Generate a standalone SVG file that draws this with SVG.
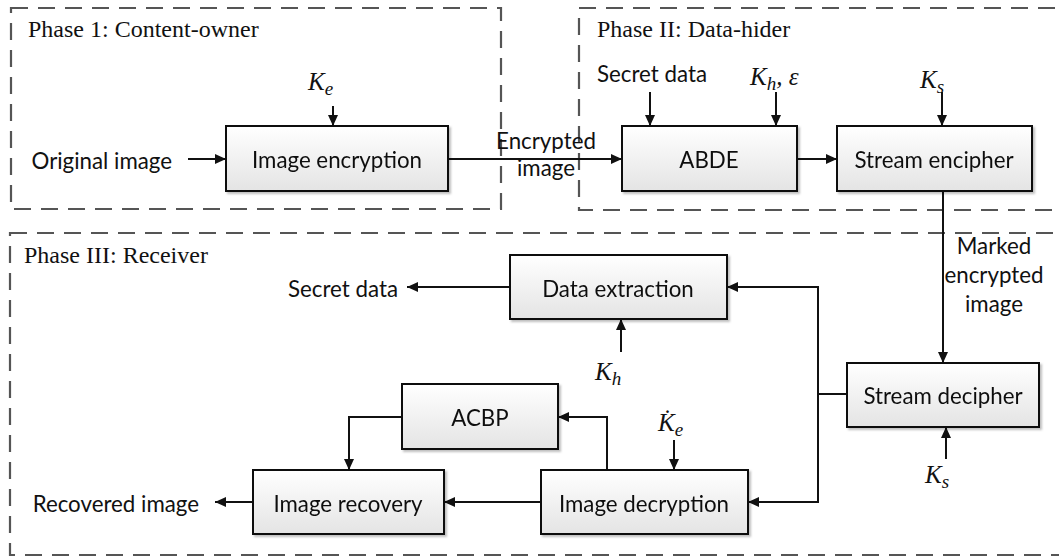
<svg xmlns="http://www.w3.org/2000/svg" width="1059" height="560" viewBox="0 0 1059 560">
  <style>
    .phase { fill: none; stroke: #555; stroke-width: 2.2; stroke-dasharray: 17 10; }
    .ptitle { font-family: "Liberation Serif", serif; font-size: 24px; fill: #111; }
    .box { fill: url(#boxfill); stroke: #111; stroke-width: 2; }
    .lbl { font-family: Lato, "Liberation Sans", sans-serif; font-size: 22.3px; fill: #111; }
    .c { text-anchor: middle; dominant-baseline: central; }
    .math { font-family: "Liberation Serif", serif; font-style: italic; font-size: 25px; fill: #111; }
    .sub { font-size: 19px; }
    .wire { fill: none; stroke: #111; stroke-width: 2; }
    .arr { marker-end: url(#head); }
  </style>
  <defs>
    <linearGradient id="boxfill" x1="0" y1="0" x2="0" y2="1">
      <stop offset="0" stop-color="#ffffff"/>
      <stop offset="1" stop-color="#e4e4e4"/>
    </linearGradient>
    <filter id="shadow" x="-5%" y="-5%" width="115%" height="125%">
      <feDropShadow dx="2" dy="2" stdDeviation="1.2" flood-color="#000" flood-opacity="0.25"/>
    </filter>
    <marker id="head" markerUnits="userSpaceOnUse" markerWidth="11" markerHeight="10" refX="11" refY="5" orient="auto">
      <path d="M0,0 L11,5 L0,10 z" fill="#111"/>
    </marker>
  </defs>
  <rect width="1059" height="560" fill="#fff"/>

  <!-- phase frames -->
  <g id="phase1">
    <rect class="phase" x="11" y="8" width="490" height="201"/>
    <text class="ptitle" x="28" y="37">Phase 1: Content-owner</text>
  </g>
  <g id="phase2">
    <rect class="phase" x="579" y="8" width="500" height="202"/>
    <text class="ptitle" x="597" y="37">Phase II: Data-hider</text>
  </g>
  <g id="phase3">
    <rect class="phase" x="10" y="233" width="1070" height="322"/>
    <text class="ptitle" x="24" y="263">Phase III: Receiver</text>
  </g>

  <!-- connectors -->
  <g id="connectors">
    <line class="wire arr" x1="188" y1="159" x2="226" y2="159"/>
    <line class="wire arr" x1="333" y1="106" x2="333" y2="126"/>
    <line class="wire arr" x1="448" y1="159" x2="622" y2="159"/>
    <line class="wire arr" x1="650" y1="92" x2="650" y2="126"/>
    <line class="wire arr" x1="776" y1="92" x2="776" y2="126"/>
    <line class="wire arr" x1="797" y1="159" x2="837" y2="159"/>
    <line class="wire arr" x1="942" y1="92" x2="942" y2="126"/>
    <line class="wire arr" x1="943" y1="191" x2="943" y2="363"/>
    <line class="wire arr" x1="946" y1="459" x2="946" y2="427"/>
    <line class="wire" x1="847" y1="394" x2="818" y2="394"/>
    <polyline class="wire arr" points="818,394 818,287 727,287"/>
    <polyline class="wire arr" points="818,394 818,502 748,502"/>
    <line class="wire arr" x1="621" y1="352" x2="621" y2="319"/>
    <line class="wire arr" x1="510" y1="287" x2="407" y2="287"/>
    <line class="wire arr" x1="674" y1="440" x2="674" y2="470"/>
    <polyline class="wire arr" points="607,470 607,417 558,417"/>
    <polyline class="wire arr" points="402,417 349,417 349,470"/>
    <line class="wire arr" x1="541" y1="502" x2="444" y2="502"/>
    <line class="wire arr" x1="253" y1="502" x2="215" y2="502"/>
  </g>

  <!-- free labels -->
  <g id="labels">
    <text class="lbl" x="172" y="160" text-anchor="end" dominant-baseline="central">Original image</text>
    <text class="lbl" x="546" y="149" text-anchor="middle">Encrypted</text>
    <text class="lbl" x="546" y="176" text-anchor="middle">image</text>
    <text class="lbl" x="597" y="82">Secret data</text>
    <text class="lbl" x="994" y="254" text-anchor="middle">Marked</text>
    <text class="lbl" x="994" y="283" text-anchor="middle">encrypted</text>
    <text class="lbl" x="994" y="312" text-anchor="middle">image</text>
    <text class="lbl" x="398" y="288" text-anchor="end" dominant-baseline="central">Secret data</text>
    <text class="lbl" x="199" y="503" text-anchor="end" dominant-baseline="central">Recovered image</text>
    <text class="math" x="308" y="90">K<tspan class="sub" dy="5">e</tspan></text>
    <text class="math" x="750" y="85">K<tspan class="sub" dy="5">h</tspan><tspan dy="-5">, ε</tspan></text>
    <text class="math" x="920" y="88">K<tspan class="sub" dy="5">s</tspan></text>
    <text class="math" x="595" y="380">K<tspan class="sub" dy="5">h</tspan></text>
    <text class="math" x="658" y="431">K̇<tspan class="sub" dy="5">e</tspan></text>
    <text class="math" x="925" y="483">K<tspan class="sub" dy="5">s</tspan></text>
  </g>

  <!-- process blocks -->
  <g id="image-encryption" filter="url(#shadow)">
    <rect class="box" x="226" y="126" width="222" height="65"/>
    <text class="lbl c" x="337" y="159">Image encryption</text>
  </g>
  <g id="abde" filter="url(#shadow)">
    <rect class="box" x="622" y="126" width="175" height="65"/>
    <text class="lbl c" x="709" y="159">ABDE</text>
  </g>
  <g id="stream-encipher" filter="url(#shadow)">
    <rect class="box" x="837" y="126" width="195" height="65"/>
    <text class="lbl c" x="934" y="159">Stream encipher</text>
  </g>
  <g id="data-extraction" filter="url(#shadow)">
    <rect class="box" x="510" y="255" width="217" height="64"/>
    <text class="lbl c" x="618" y="288">Data extraction</text>
  </g>
  <g id="stream-decipher" filter="url(#shadow)">
    <rect class="box" x="847" y="363" width="192" height="64"/>
    <text class="lbl c" x="943" y="395">Stream decipher</text>
  </g>
  <g id="acbp" filter="url(#shadow)">
    <rect class="box" x="402" y="384" width="156" height="65"/>
    <text class="lbl c" x="480" y="417">ACBP</text>
  </g>
  <g id="image-recovery" filter="url(#shadow)">
    <rect class="box" x="253" y="470" width="191" height="64"/>
    <text class="lbl c" x="348" y="503">Image recovery</text>
  </g>
  <g id="image-decryption" filter="url(#shadow)">
    <rect class="box" x="541" y="470" width="207" height="64"/>
    <text class="lbl c" x="644" y="503">Image decryption</text>
  </g>
</svg>
